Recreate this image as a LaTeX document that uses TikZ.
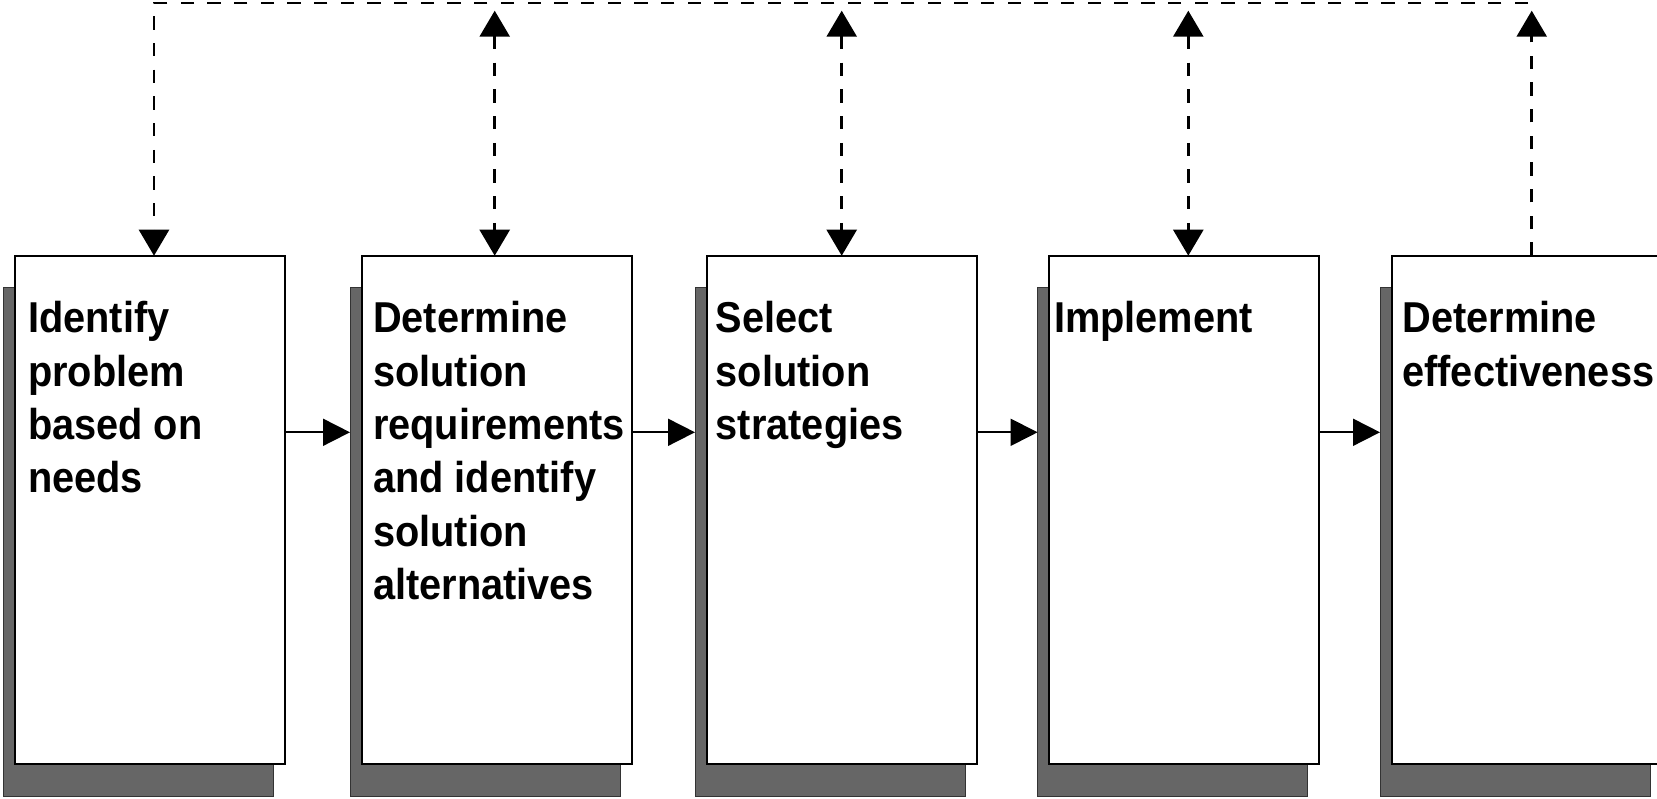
\documentclass[tikz,border=0pt]{standalone}
\usepackage{fontspec}
\setmainfont{Liberation Sans}[FakeStretch=0.92]
\usetikzlibrary{arrows.meta,positioning,backgrounds,calc}
\definecolor{shadowgray}{HTML}{666666}
\tikzset{
	stepbox/.style={draw,line width=1pt,fill=white,inner sep=0pt,outer sep=0pt,
		minimum width=135pt,minimum height=254.15pt},
	shadowbox/.style={draw=black!80,line width=0.5pt,fill=shadowgray,inner sep=0pt,outer sep=0pt,
		minimum width=135pt,minimum height=254.15pt},
	steptext/.style={anchor=north west,inner sep=0pt,align=left,
		font=\fontsize{21.6pt}{26.7pt}\selectfont\bfseries},
	flow/.style={line width=0.9pt,-{Triangle[length=13.5pt,width=13.5pt]}},
	feedback/.style={line width=1.3pt,dash pattern=on 6.67pt off 6.67pt},
	tip/.tip={Triangle[length=13pt,width=15pt]}
}
\begin{document}
\begin{tikzpicture}[x=0.5pt,y=-0.5pt]
	\useasboundingbox (0,0) rectangle (1657,798);
	\clip (0,0) rectangle (1657,798);
	% process steps
	\node[stepbox] (b1) at (150,509.85) {};
	\node[stepbox,right=38.35pt of b1] (b2) {};
	\node[stepbox,right=37.5pt of b2] (b3) {};
	\node[stepbox,right=36.3pt of b3] (b4) {};
	\node[stepbox,right=36.2pt of b4] (b5) {};
	\begin{scope}[on background layer]
		\foreach \n in {1,...,5}
			\node[shadowbox] (s\n) at ([xshift=-5.85pt,yshift=-16pt]b\n.center) {};
	\end{scope}
	\foreach \n/\dx/\txt in {1/6.35/{Identify\\problem\\based on\\needs},
		2/5.5/{Determine\\solution\\requirements\\and identify\\solution\\alternatives},
		3/4.35/{Select\\solution\\strategies}, 4/2.15/{Implement},
		5/5.15/{Determine\\effectiveness}}{
		\node[steptext] (t\n) at ([xshift=\dx pt,yshift=-22.65pt]b\n.north west) {\txt};
	}
	% forward flow
	\foreach \a/\b in {1/2,2/3,3/4,4/5}
		\draw[flow] ([yshift=38.78pt]b\a.east) coordinate (o\a) -- (o\a -| s\b.west);
	% feedback loop
	\coordinate (fbend) at (1528,3);
	\coordinate (tipline) at (0,10.7);
	\foreach \n/\dx in {1/4,2/-2,3/0,4/4,5/5}
		\coordinate (v\n) at ($(b\n.north)+(\dx,0)$);
	\draw[feedback,-tip] (fbend) -| (v1);
	\foreach \n in {2,3,4}
		\draw[feedback,tip-tip] (v\n |- tipline) -- (v\n);
	\draw[feedback,-tip] (v5) -- (v5 |- tipline);
\end{tikzpicture}
\end{document}
